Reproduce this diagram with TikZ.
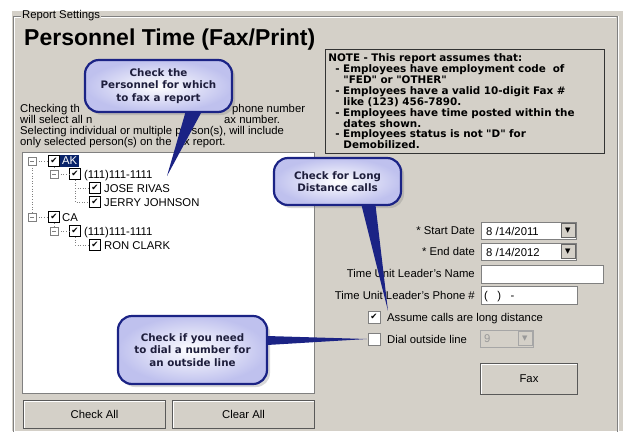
\documentclass[tikz,border=0pt]{standalone}
\usepackage{fontspec}
\setmainfont{Liberation Sans}
\newfontfamily\tipfont{DejaVu Sans}
\usetikzlibrary{shadows,positioning}

\definecolor{panel}{HTML}{D4D0C8}
\definecolor{navy}{HTML}{1B2385}
\definecolor{tipfill}{HTML}{BFC1EE}
\definecolor{tiptext}{HTML}{1E1E3C}
\definecolor{selblue}{HTML}{0A246A}
\definecolor{edge}{HTML}{808080}

\tikzset{
  ui/.style={font=\fontsize{11.3}{11.3}\selectfont, inner sep=0pt},
  tickbox/.style={draw=black, line width=1.4pt, fill=white, minimum size=11pt, inner sep=0pt,
    font=\tipfont\fontsize{8.5}{8.5}\selectfont},
  winbox/.style={draw=edge, line width=0.8pt, fill=white, minimum size=12pt, inner sep=0pt,
    font=\tipfont\fontsize{8.5}{8.5}\selectfont},
  expander/.style={draw=edge, fill=white, minimum size=8pt, inner sep=0pt,
    path picture={\draw ([xshift=2pt]path picture bounding box.west) -- ([xshift=-2pt]path picture bounding box.east);}},
  sunken/.style={draw=edge, line width=0.8pt, fill=white},
  dropbtn/.style={fill=panel, draw=black!60, minimum width=14pt, minimum height=14pt, inner sep=0pt,
    font=\tipfont\fontsize{7}{7}\selectfont},
  button/.style={ui, fill=panel, draw=black!65, line width=1pt, anchor=north west,
    path picture={\draw[white, line width=2.5pt] (path picture bounding box.south west)
      -- (path picture bounding box.north west) -- (path picture bounding box.north east);}},
  treeline/.style={edge, dotted, line width=0.6pt},
  tipbox/.style={rounded corners=14pt, draw=navy, line width=2.2pt, inner color=white, outer color=tipfill,
    align=center, text=tiptext, font=\tipfont\bfseries\fontsize{10.3}{12.3}\selectfont,
    drop shadow={opacity=0.3, shadow xshift=3pt, shadow yshift=-3pt}},
  tipspike/.style={fill=navy}
}

\begin{document}
\begin{tikzpicture}[x=1pt,y=-1pt]
\useasboundingbox (0,0) rectangle (623,431);
\fill[white] (0,0) rectangle (623,431);
\fill[panel] (12,11) rectangle (623,431);

% group frame
\draw[edge] (13,16) rectangle (617,440);
\draw[white] (14,17) -- (616,17) (14,17) -- (14,431) (618,16) -- (618,431);
\node[ui, fill=panel, inner xsep=1pt, anchor=west] (group) at (21,16) {Report Settings};
\node[anchor=base west, inner sep=0pt, font=\fontsize{23}{23}\selectfont\bfseries] (title) at (24,45) {Personnel Time (Fax/Print)};

% note
\node[draw=black!80, line width=0.8pt, anchor=north west, minimum width=279pt, minimum height=104pt,
      text width=273pt, inner xsep=3pt, inner ysep=1pt, align=left,
      font=\tipfont\bfseries\fontsize{10.4}{10.9}\selectfont] (note) at (325,49) {%
NOTE - This report assumes that:\\
\hspace*{7pt}- Employees have employment code\ \ of\\
\hspace*{15pt}"FED" or "OTHER"\\
\hspace*{7pt}- Employees have a valid 10-digit Fax \#\\
\hspace*{15pt}like (123) 456-7890.\\
\hspace*{7pt}- Employees have time posted within the\\
\hspace*{15pt}dates shown.\\
\hspace*{7pt}- Employees status is not "D" for\\
\hspace*{15pt}Demobilized.};

% help text
\node[ui, anchor=base west] (hint1a) at (20,112) {Checking th};
\node[ui, anchor=base west] (hint1b) at (232,112) {phone number};
\node[ui, anchor=base west] (hint2a) at (20,123) {will select all n};
\node[ui, anchor=base west] (hint2b) at (224,123) {ax number.};
\node[ui, anchor=base west] (hint3) at (20,134) {Selecting individual or multiple p\phantom{er}son(s), will include};
\node[ui, anchor=base west] (hint4) at (20,145) {only selected person(s) on the \phantom{f}ax report.};

% tree
\draw[sunken] (22,152) rectangle (314,393);
\node[expander] (akexp) at (32,161) {};
\node[tickbox] (akbox) at (54,161) {✔};
\node[ui, fill=selblue, text=white, inner xsep=2pt, inner ysep=2pt, anchor=west] (ak) at (60,161) {AK};
\node[expander] (akphexp) at (54,174) {};
\node[tickbox] (akphbox) at (75,174) {✔};
\node[ui, anchor=base west] (akph) at (84,178) {(111)111-1111};
\node[tickbox] (josebox) at (95,188) {✔};
\node[ui, anchor=base west] (jose) at (104,192) {JOSE RIVAS};
\node[tickbox] (jerrybox) at (95,202) {✔};
\node[ui, anchor=base west] (jerry) at (104,206) {JERRY JOHNSON};
\node[expander] (caexp) at (32,217) {};
\node[tickbox] (cabox) at (54,217) {✔};
\node[ui, anchor=base west] (ca) at (62,221) {CA};
\node[expander] (caphexp) at (54,231) {};
\node[tickbox] (caphbox) at (75,231) {✔};
\node[ui, anchor=base west] (caph) at (84,235) {(111)111-1111};
\node[tickbox] (ronbox) at (95,245) {✔};
\node[ui, anchor=base west] (ron) at (104,249) {RON CLARK};

\draw[treeline] (akexp) -- (caexp);
\draw[treeline] (akexp) -- (akbox);
\draw[treeline] (caexp) -- (cabox);
\draw[treeline] (akbox) -- (akphexp);
\draw[treeline] (cabox) -- (caphexp);
\draw[treeline] (akphexp) -- (akphbox);
\draw[treeline] (caphexp) -- (caphbox);
\draw[treeline] (akphbox.south |- josebox) -- (josebox);
\draw[treeline] (akphbox) |- (jerrybox);
\draw[treeline] (caphbox) |- (ronbox);

\node[button, minimum width=142pt, minimum height=28pt] (checkall) at (23,400) {Check All};
\node[button, minimum width=142pt, minimum height=28pt] (clearall) at (172,400) {Clear All};

% date and leader fields
\node[ui, anchor=base east] (startlbl) at (475,234) {* Start Date};
\draw[sunken] (481,222) rectangle (576,239);
\node[ui, anchor=base west] (start) at (486,235) {8 /14/2011};
\node[dropbtn, anchor=east] (startdrop) at (575,230.5) {▼};

\node[ui, anchor=base east] (endlbl) at (475,255) {* End date};
\draw[sunken] (481,243) rectangle (576,260);
\node[ui, anchor=base west] (end) at (486,256) {8 /14/2012};
\node[dropbtn, anchor=east] (enddrop) at (575,251.5) {▼};

\node[ui, anchor=base east] (namelbl) at (475,277) {Time Unit Leader's Name};
\draw[sunken] (481,265) rectangle (603,283);

\node[ui, anchor=base east] (phonelbl) at (475,299) {Time Unit Leader's Phone \#};
\draw[sunken] (481,286) rectangle (577,304);
\node[ui, anchor=base west] (phone) at (484,299) {(\ \ \ )\ \ \ -};

\node[winbox] (longbox) at (374,317) {✔};
\node[ui, anchor=base west] (long) at (387,321) {Assume calls are long distance};
\node[winbox] (dialbox) at (374,339) {};
\node[ui, anchor=base west] (dial) at (387,343) {Dial outside line};
\draw[draw=black!35, fill=panel] (480,330) rectangle (533,347);
\node[ui, anchor=base west, text=black!40] (dialnum) at (484,342.5) {9};
\node[dropbtn, anchor=east, draw=black!35, text=black!40] (dialdrop) at (532,338.5) {▼};

\node[button, minimum width=97pt, minimum height=31pt] (fax) at (480,363) {Fax};

% callouts
\node[tipbox, minimum width=147pt, minimum height=52pt] (tipperson) at (158.5,86) {Check the\\Personnel for which\\to fax a report};
\node[tipbox, minimum width=127pt, minimum height=47pt] (tiplong) at (337.5,181.5) {Check for Long\\Distance calls};
\node[tipbox, minimum width=149pt, minimum height=68pt] (tipdial) at (192.5,350) {Check if you need\\to dial a number for\\an outside line};

\coordinate (persontip) at (167,176);
\coordinate (longtip) at (388,311);
\coordinate (dialtip) at (367,339);

\fill[tipspike] ([xshift=27pt,yshift=1pt]tipperson.south) -- (persontip) -- ([xshift=43pt,yshift=1pt]tipperson.south) -- cycle;
\fill[tipspike] ([xshift=24pt,yshift=1pt]tiplong.south) -- (longtip) -- ([xshift=38pt,yshift=1pt]tiplong.south) -- cycle;
\fill[tipspike] ([xshift=-1pt,yshift=14pt]tipdial.east) -- (dialtip) -- ([xshift=-1pt,yshift=5pt]tipdial.east) -- cycle;
\end{tikzpicture}
\end{document}
